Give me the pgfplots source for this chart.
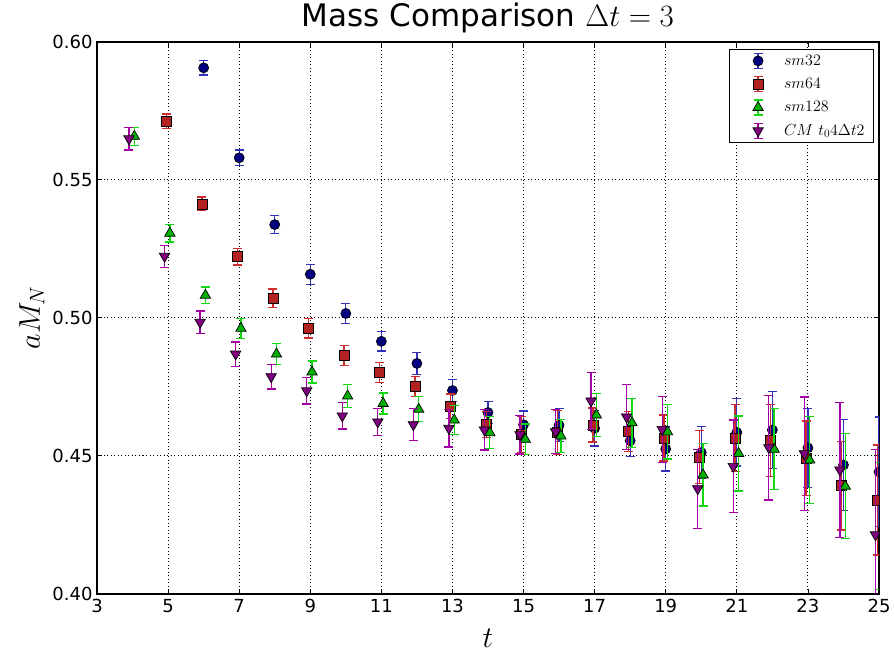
\RequirePackage{fix-cm}
\documentclass[border=0pt]{standalone}
\usepackage{pgfplots}
\pgfplotsset{compat=1.18}
\usepackage[no-math]{fontspec}
\setmainfont{DejaVu Sans}
\definecolor{c32}{RGB}{0,0,128}
\definecolor{e32}{RGB}{50,50,185}
\definecolor{c64}{RGB}{178,34,34}
\definecolor{e64}{RGB}{205,45,45}
\definecolor{c128}{RGB}{0,175,0}
\definecolor{e128}{RGB}{20,215,20}
\definecolor{cCM}{RGB}{128,0,128}
\definecolor{eCM}{RGB}{165,0,165}
\pgfplotsset{
  errstyle/.style={error bars/.cd, y dir=both, y explicit,
    error bar style={line width=1.3pt, color=#1},
    error mark options={rotate=90, mark size=4.5pt, line width=1.3pt, color=#1},
    /pgfplots/.cd},
  legimg/.style={legend image code/.code={
    \path[draw=none, fill=none] (0pt,-11.5pt) rectangle (46pt,11.5pt);
    \draw[draw=#1, line width=1.3pt] (22pt,-7.5pt) -- (22pt,7.5pt)
      (17.5pt,-7.5pt) -- (26.5pt,-7.5pt) (17.5pt,7.5pt) -- (26.5pt,7.5pt);
    \draw[mark repeat=2,mark phase=2,##1] plot coordinates {(6pt,0pt) (22pt,0pt) (38pt,0pt)};
  }},
}
\begin{document}
\begin{tikzpicture}
\begin{axis}[
  scale only axis,
  width=782pt, height=552pt,
  xmin=3, xmax=25, ymin=0.40, ymax=0.60,
  xtick={3,5,...,25},
  ytick={0.40,0.45,0.50,0.55,0.60},
  yticklabels={0.40,0.45,0.50,0.55,0.60},
  scaled y ticks=false,
  /pgf/number format/assume math mode=true,
  tick label style={font=\fontsize{18}{20}\selectfont},
  xticklabel style={yshift=-2pt},
  yticklabel style={xshift=-1pt},
  tick align=inside,
  major tick length=5pt,
  tick style={black, line width=0.8pt},
  axis line style={line width=1.3pt, black},
  grid=major,
  major grid style={black, line width=0.9pt, dash pattern=on 1pt off 2.5pt},
  clip marker paths=true,
  title={Mass Comparison $\Delta t=3$},
  title style={font=\fontsize{31}{36}\selectfont, at={(rel axis cs:0.5,1)}, anchor=base, yshift=9pt},
  xlabel={$t$},
  xlabel style={font=\fontsize{30}{34}\selectfont, at={(rel axis cs:0.5,0)}, anchor=base, yshift=-54pt},
  ylabel={$aM_N$},
  ylabel style={font=\fontsize{30}{34}\selectfont, at={([xshift=-57pt]rel axis cs:0,0.5)}, anchor=base},
  legend cell align=left,
  legend style={at={([xshift=-5pt,yshift=-7pt]rel axis cs:1,1)}, anchor=north east,
    draw=black, line width=1pt, font=\fontsize{16}{18}\selectfont,
    row sep=0.3pt, inner xsep=7pt, inner ysep=0pt},
]
\addplot[only marks, mark=*, mark size=5pt, mark options={fill=c32, draw=black, line width=0.7pt}, legimg=e32, errstyle=e32]
table[x=t, y=m, y error=e] {
t m e
6 0.5906 0.0026
7 0.5580 0.0028
8 0.5338 0.0033
9 0.5158 0.0036
10 0.5016 0.0037
11 0.4915 0.0035
12 0.4835 0.0040
13 0.4737 0.0040
14 0.4657 0.0040
15 0.4613 0.0050
16 0.4611 0.0060
17 0.4600 0.0064
18 0.4555 0.0056
19 0.4525 0.0080
20 0.4512 0.0095
21 0.4585 0.0122
22 0.4594 0.0140
23 0.4529 0.0143
24 0.4467 0.0166
25 0.4442 0.0199
};
\addlegendentry{$sm32$}
\addplot[only marks, mark=square*, mark size=5pt, mark options={fill=c64, draw=black, line width=0.7pt}, legimg=e64, errstyle=e64]
table[x=t, y=m, y error=e] {
t m e
4.95 0.5712 0.0027
5.95 0.5413 0.0025
6.95 0.5222 0.0030
7.95 0.5071 0.0034
8.95 0.4963 0.0036
9.95 0.4863 0.0036
10.95 0.4802 0.0036
11.95 0.4751 0.0036
12.95 0.4680 0.0044
13.95 0.4613 0.0047
14.95 0.4578 0.0065
15.95 0.4584 0.0080
16.95 0.4612 0.0062
17.95 0.4589 0.0073
18.95 0.4565 0.0083
19.95 0.4496 0.0097
20.95 0.4565 0.0122
21.95 0.4556 0.0130
22.95 0.4491 0.0135
23.95 0.4392 0.0160
24.95 0.4340 0.0199
};
\addlegendentry{$sm64$}
\addplot[only marks, mark=triangle*, mark size=6pt, mark options={fill=c128, draw=black, line width=0.7pt}, legimg=e128, errstyle=e128]
table[x=t, y=m, y error=e] {
t m e
4.05 0.5658 0.0033
5.05 0.5307 0.0032
6.05 0.5082 0.0030
7.05 0.4962 0.0036
8.05 0.4869 0.0037
9.05 0.4804 0.0040
10.05 0.4717 0.0042
11.05 0.4690 0.0038
12.05 0.4669 0.0045
13.05 0.4630 0.0053
14.05 0.4584 0.0058
15.05 0.4560 0.0055
16.05 0.4572 0.0060
17.05 0.4648 0.0078
18.05 0.4620 0.0089
19.05 0.4587 0.0098
20.05 0.4431 0.0113
21.05 0.4509 0.0136
22.05 0.4524 0.0147
23.05 0.4485 0.0157
24.05 0.4390 0.0190
25.05 0.4245 0.0230
};
\addlegendentry{$sm128$}
\addplot[only marks, mark=triangle*, mark size=6pt, mark options={rotate=180, fill=cCM, draw=black, line width=0.7pt}, legimg=eCM, errstyle=eCM]
table[x=t, y=m, y error=e] {
t m e
3.9 0.5649 0.0041
4.9 0.5223 0.0040
5.9 0.4984 0.0041
6.9 0.4869 0.0044
7.9 0.4787 0.0045
8.9 0.4736 0.0048
9.9 0.4645 0.0048
10.9 0.4623 0.0048
11.9 0.4613 0.0058
12.9 0.4600 0.0068
13.9 0.4594 0.0073
14.9 0.4577 0.0070
15.9 0.4588 0.0080
16.9 0.4699 0.0103
17.9 0.4641 0.0117
18.9 0.4596 0.0120
19.9 0.4381 0.0143
20.9 0.4462 0.0168
21.9 0.4530 0.0190
22.9 0.4508 0.0205
23.9 0.4449 0.0245
24.9 0.4214 0.0310
};
\addlegendentry{$CM\ t_0 4\Delta t 2$}
\end{axis}
\path (-97pt,-59pt) rectangle (797pt,592pt);
\end{tikzpicture}
\end{document}
